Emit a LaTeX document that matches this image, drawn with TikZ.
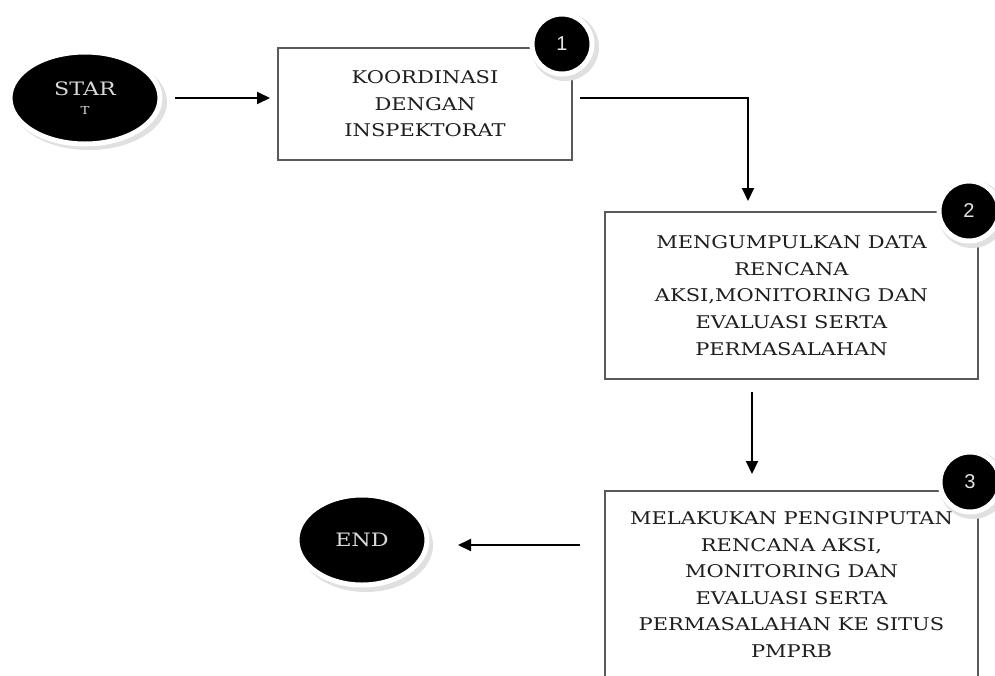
\documentclass[tikz,border=0pt]{standalone}
\usepackage{fontspec}
\setmainfont[FakeStretch=1.2]{DejaVu Serif}
\newfontfamily\numfont{Liberation Sans}
\usetikzlibrary{arrows.meta,shapes.geometric,calc}
\tikzset{
  stepbox/.style={draw=black!65,line width=2pt,fill=white,rectangle,align=center,
    text=black!88,font=\fontsize{17.5}{26.6}\selectfont,inner sep=0pt},
  term/.style={ellipse,fill=black,draw=white,line width=5pt,text=white!85!black,
    font=\fontsize{18.5}{20}\selectfont,align=center,inner sep=0pt},
  badge/.style={circle,fill=black,draw=white,line width=5pt,minimum size=60pt,
    text=white!90!black,font=\numfont\fontsize{20}{22}\selectfont,inner sep=0pt},
  flow/.style={line width=2pt,-{Triangle[length=13pt,width=12pt]}},
}
\begin{document}
\begin{tikzpicture}[x=1pt,y=-1pt]
\useasboundingbox (0,0) rectangle (995,675);
\clip (0,0) rectangle (995,675);
% shadows
\fill[black!12] (89,102) ellipse [x radius=78,y radius=48];
\fill[black!12] (366,545) ellipse [x radius=67,y radius=47];
% terminals
\node[term,minimum width=150pt,minimum height=92pt] (start) at (85,98) {STAR\\[-1pt]{\fontsize{11}{12}\selectfont T}};
\node[term,minimum width=130pt,minimum height=90pt] (end) at (362,540) {END};
% boxes
\node[stepbox,minimum width=294pt,minimum height=112pt] (b1) at (425,104) {KOORDINASI\\DENGAN\\INSPEKTORAT};
\node[stepbox,minimum width=373pt,minimum height=167pt] (b2) at (791.5,295.5) {MENGUMPULKAN DATA\\RENCANA\\AKSI,MONITORING DAN\\EVALUASI SERTA\\PERMASALAHAN};
\node[stepbox,minimum width=373pt,minimum height=220pt,anchor=north] (b3) at (791.5,490) {};
\node[align=center,text=black!88,font=\fontsize{17.5}{26.6}\selectfont,anchor=north] (t3) at (791.5,508) {MELAKUKAN PENGINPUTAN\\RENCANA AKSI,\\MONITORING DAN\\EVALUASI SERTA\\PERMASALAHAN KE SITUS\\PMPRB};
% badges
\fill[black!12] (565,47) circle (34);
\node[badge] (n1) at (562,44) {1};
\fill[black!12] (972,214) circle (34);
\node[badge] (n2) at (969,211) {2};
\fill[black!12] (973,485) circle (34);
\node[badge] (n3) at (970,482) {3};
% connectors
\coordinate (a1) at (175,98);
\coordinate (a2) at (270,98);
\draw[flow] (a1) -- (a2);
\coordinate (c1) at (580,98);
\coordinate (c2) at (748,201);
\draw[flow] (c1) -| (c2);
\coordinate (d1) at (752,392);
\coordinate (d2) at (752,474);
\draw[flow] (d1) -- (d2);
\coordinate (e1) at (580,545);
\coordinate (e2) at (458,545);
\draw[flow] (e1) -- (e2);
\end{tikzpicture}
\end{document}
